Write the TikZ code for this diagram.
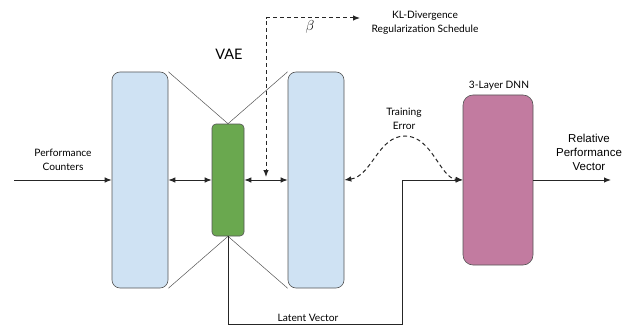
\documentclass[tikz,border=0pt]{standalone}
\usepackage{fontspec}
\setmainfont{Lato}
\newfontfamily\arialfont{Liberation Sans}
\usetikzlibrary{arrows.meta}
\definecolor{encblue}{HTML}{CFE2F3}
\definecolor{latgreen}{HTML}{6AA84F}
\definecolor{dnnpurple}{HTML}{C27BA0}
\definecolor{edgegray}{HTML}{555555}
\begin{document}
\begin{tikzpicture}[x = 1pt, y = -1pt,
		layer/.style = {draw = edgegray, line width = 0.6pt, rounded corners = 8pt, minimum width = 56pt, minimum height = 216pt, inner sep = 0pt},
		flow/.style = {draw = black!85, line width = 1pt, -{Latex[length = 7pt, width = 5.5pt]}},
		both/.style = {{Latex[length = 7pt, width = 5.5pt]}-{Latex[length = 7pt, width = 5.5pt]}},
		dashline/.style = {dash pattern = on 4pt off 3pt},
		lbl/.style = {align = center, font = \fontsize{10.2}{14}\selectfont}]
		\useasboundingbox (0, 0) rectangle (631, 326);
		% VAE blocks
		\node[layer, fill = encblue] (enc) at (140, 180) {};
		\node[layer, fill = latgreen, rounded corners = 4pt, minimum width = 32pt, minimum height = 112pt] (lat) at (228, 180) {};
		\node[layer, fill = encblue] (dec) at (316, 180) {};
		\node[layer, fill = dnnpurple, rounded corners = 10pt, minimum width = 70pt, minimum height = 170pt] (dnn) at (498, 180) {};
		\foreach \a/\b in {enc.north east/lat.north, dec.north west/lat.north, enc.south east/lat.south, dec.south west/lat.south}
			\draw[edgegray, line width = 0.5pt] (\a) -- (\b);
		% labels
		\node[lbl, font = \fontsize{14.5}{16}\selectfont] (vae) at (229, 54) {VAE};
		\node[lbl] (pc) at (63, 160) {Performance\\Counters};
		\node[lbl] (kl) at (425, 23) {KL-Divergence\\Regularization Schedule};
		\node[lbl] (te) at (404, 119) {Training\\Error};
		\node[lbl] (dnnlbl) at (499, 86) {3-Layer DNN};
		\node[lbl] (lv) at (308, 318) {Latent Vector};
		\node[lbl, font = \arialfont\fontsize{11.5}{14}\selectfont] (rpv) at (589, 152) {Relative\\Performance\\Vector};
		\node[font = \fontsize{14}{16}\selectfont] (beta) at (310, 27) {\(\beta\)};
		% connectors
		\coordinate (start) at (14, 180);
		\coordinate (out) at (611, 180);
		\coordinate (klend) at (360, 18);
		\coordinate (betadrop) at (266, 177);
		\coordinate (lvcorner) at (402, 324);
		\coordinate (bump) at (405, 136);
		\draw[flow] (start) -- (enc.west);
		\draw[flow, both] (enc.east) -- (lat.west);
		\draw[flow, both] (lat.east) -- (dec.west);
		\draw[flow, dashline, both] (klend) -| (betadrop);
		\draw[flow, dashline, both] (dec.east) .. controls (372, 176) and (378, 136) .. (bump) .. controls (432, 136) and (440, 178) .. (dnn.west);
		\draw[flow] (lat.south) |- (lvcorner) |- (dnn.west);
		\draw[flow] (dnn.east) -- (out);
	\end{tikzpicture}
\end{document}
